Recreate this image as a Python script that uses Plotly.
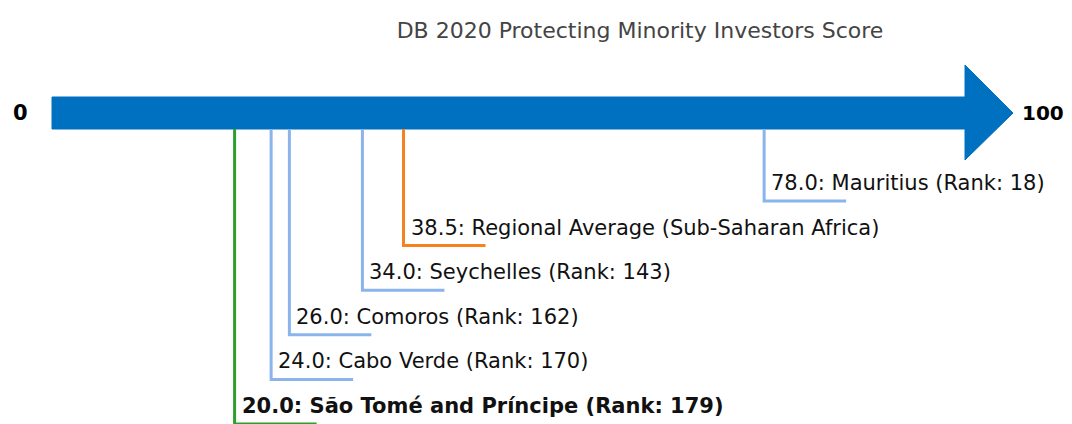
import plotly.graph_objects as go

# Datos
TITULO = "DB 2020 Protecting Minority Investors Score"
ESCALA_MIN = 0
ESCALA_MAX = 100

economias = ["São Tomé and Príncipe", "Cabo Verde", "Comoros", "Seychelles",
             "Regional Average (Sub-Saharan Africa)", "Mauritius"]
puntajes = [20.0, 24.0, 26.0, 34.0, 38.5, 78.0]
rangos = [179, 170, 162, 143, None, 18]
tipos = ["foco", "par", "par", "par", "promedio", "par"]

# Estilo
COLOR_FLECHA = "#0070C0"
COLORES = {"foco": "#2CA02C", "par": "#8AB4EC", "promedio": "#F5821F"}
FUENTE = "DejaVu Sans"

# la pagina tiene 8px de margen en el body
MARGEN_PAGINA = 8
ANCHO, ALTO = 1072 - MARGEN_PAGINA, 424 - MARGEN_PAGINA
X0_PX, X100_PX = 52 - MARGEN_PAGINA, 965 - MARGEN_PAGINA
PX_POR_UNIDAD = (X100_PX - X0_PX) / (ESCALA_MAX - ESCALA_MIN)
x_rango = [ESCALA_MIN - X0_PX / PX_POR_UNIDAD,
           ESCALA_MIN + (ANCHO - X0_PX) / PX_POR_UNIDAD]

# eje y en pixeles (invertido)
BARRA_ARRIBA, BARRA_ABAJO = 97 - MARGEN_PAGINA, 129 - MARGEN_PAGINA
PUNTA_ARRIBA, PUNTA_ABAJO = 65 - MARGEN_PAGINA, 160 - MARGEN_PAGINA
PUNTA_LARGO = 48 / PX_POR_UNIDAD
NIVEL_BASE, NIVEL_PASO = 424 - MARGEN_PAGINA, 44.6
SUBRAYADO = 82 / PX_POR_UNIDAD

fig = go.Figure()

# flecha
centro = (BARRA_ARRIBA + BARRA_ABAJO) / 2
fig.add_trace(go.Scatter(
    x=[ESCALA_MIN, ESCALA_MAX, ESCALA_MAX, ESCALA_MAX + PUNTA_LARGO,
       ESCALA_MAX, ESCALA_MAX, ESCALA_MIN, ESCALA_MIN],
    y=[BARRA_ARRIBA, BARRA_ARRIBA, PUNTA_ARRIBA, centro,
       PUNTA_ABAJO, BARRA_ABAJO, BARRA_ABAJO, BARRA_ARRIBA],
    fill="toself", fillcolor=COLOR_FLECHA, mode="lines",
    line=dict(color=COLOR_FLECHA, width=1),
    hoverinfo="skip", showlegend=False
))

# marcadores
orden = sorted(range(len(puntajes)), key=lambda i: puntajes[i])
for nivel, i in enumerate(orden):
    y_linea = NIVEL_BASE - NIVEL_PASO * nivel
    x = puntajes[i]
    color = COLORES[tipos[i]]
    fig.add_trace(go.Scatter(
        x=[x, x, x + SUBRAYADO], y=[BARRA_ABAJO, y_linea, y_linea],
        mode="lines", line=dict(color=color, width=3),
        hoverinfo="skip", showlegend=False
    ))
    if rangos[i] is None:
        texto = f"{x:.1f}: {economias[i]}"
    else:
        texto = f"{x:.1f}: {economias[i]} (Rank: {rangos[i]})"
    if tipos[i] == "foco":
        texto = f"<b>{texto}</b>"
    fig.add_annotation(
        x=x, y=y_linea - 18, text=texto, showarrow=False,
        xanchor="left", yanchor="middle", xshift=5,
        font=dict(family=FUENTE, size=21, color="#111111")
    )

# extremos de la escala
fig.add_annotation(x=ESCALA_MIN, y=centro, text=f"<b>{ESCALA_MIN}</b>",
                   showarrow=False, xanchor="right", xshift=-22,
                   font=dict(family=FUENTE, size=21, color="#000000"))
fig.add_annotation(x=ESCALA_MAX + PUNTA_LARGO, y=centro, text=f"<b>{ESCALA_MAX}</b>",
                   showarrow=False, xanchor="left", xshift=7,
                   font=dict(family=FUENTE, size=20, color="#000000"))

fig.update_layout(
    width=ANCHO, height=ALTO,
    margin=dict(l=0, r=0, t=0, b=0),
    paper_bgcolor="white", plot_bgcolor="white",
    title=dict(text=TITULO, x=(640 - MARGEN_PAGINA) / ANCHO, xanchor="center",
               y=1 - (30 - MARGEN_PAGINA) / ALTO, yanchor="middle",
               font=dict(family=FUENTE, size=22, color="#444444")),
    xaxis=dict(range=x_rango, visible=False),
    yaxis=dict(range=[ALTO, 0], visible=False),
)

fig.write_html("out.html")
